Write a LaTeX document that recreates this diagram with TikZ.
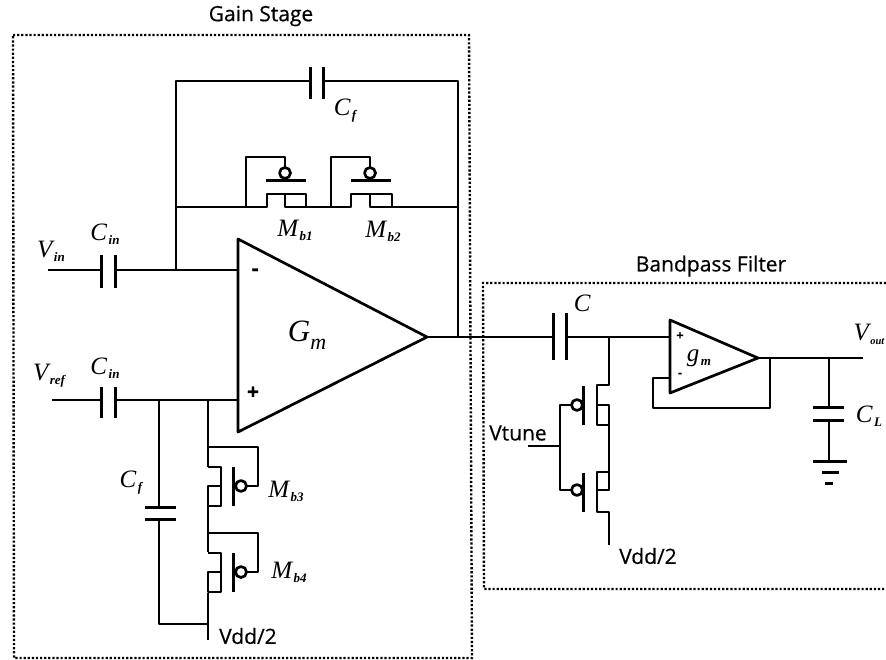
\documentclass[tikz,border=0pt]{standalone}
\usepackage{fontspec}
\setmainfont{Open Sans}[FakeBold=0.5]
\newfontfamily\serifit{Liberation Serif}
\newcommand{\sym}[3][13]{{\serifit\itshape\fontsize{25}{25}\selectfont #2\hspace{1.5pt}\raisebox{-4pt}{\fontsize{#1}{#1}\selectfont\bfseries #3}}}
\newcommand{\symbig}[2]{{\serifit\itshape\fontsize{31}{31}\selectfont #1\raisebox{-8pt}{\fontsize{22}{22}\selectfont #2}}}
\tikzset{
  wire/.style={line width=2.7pt,line join=round},
  plate/.style={line width=3pt},
  frame/.style={line width=2.4pt,dash pattern=on 2.2pt off 1.9pt},
  sign/.style={font=\fontsize{21}{21}\selectfont\bfseries,inner sep=0pt},
  smallsign/.style={font=\fontsize{13}{13}\selectfont\bfseries,inner sep=0pt},
  title/.style={font=\fontsize{21}{21}\selectfont,inner sep=0pt},
  sym/.style={inner sep=0pt}
}
\begin{document}
\begin{tikzpicture}[x=1pt,y=-1pt]
\useasboundingbox (0,0) rectangle (886,660);
% dotted frames
\draw[frame] (13,35) -- (469,35) -- (472,658) -- (14,658) -- cycle;
\draw[frame] (886,283) -- (483,283) -- (484,589) -- (886,589);
\node[title] (gaintitle) at (261,16) {Gain Stage};
\node[title] (filtertitle) at (711,266) {Bandpass Filter};
% pins
\coordinate (fbl) at (176,81);
\coordinate (fbr) at (458,81);
\coordinate (ml) at (176,207);
\coordinate (mr) at (458,207);
\coordinate (inn) at (238,270);
\coordinate (inp) at (238,400);
\coordinate (nref) at (159,400);
\coordinate (nbias) at (208,400);
\coordinate (nvdd) at (208,624);
\coordinate (nout) at (458,337);
% main amplifier
\draw[wire] (238,239) -- (427,337) -- (238,432) -- cycle;
\coordinate (gmout) at (427,337);
\node[sign] (mainminus) at (255,272) {-};
\node[sign] (mainplus) at (253,393) {+};
\node[sym] (gmlabel) at (307,335) {\symbig{G}{m}};
% feedback cap
\draw[plate] (310,67) -- (310,99);
\draw[plate] (323,67) -- (323,99);
\draw[wire] (inn -| fbl) -- (fbl) -- (310,81);
\draw[wire] (323,81) -- (fbr) -- (nout);
\node[sym] (cftop) at (345,111) {\sym{C}{f}};
% input caps
\foreach \y/\t/\b in {270/255/288,400/387/418}
{
\draw[plate] (101,\t) -- (101,\b);
\draw[plate] (115,\t) -- (115,\b);
}
\draw[wire] (48,270) -- (101,270);
\draw[wire] (115,270) -- (inn);
\draw[wire] (52,400) -- (101,400);
\draw[wire] (115,400) -- (inp);
\node[sym] (vin) at (51,251) {\sym{V}{in}};
\node[sym] (cin1) at (105,234) {\sym{C}{in}};
\node[sym] (vref) at (49,376) {\sym{V}{ref}};
\node[sym] (cin2) at (105,368) {\sym{C}{in}};
% top pseudo resistors
\draw[wire] (ml) -- (267,207) -- (267,194) -- (306,194) -- (306,207) -- (285,207) -- (285,194);
\draw[wire] (306,207) -- (351,207) -- (351,194) -- (392,194) -- (392,207) -- (370,207) -- (370,194);
\draw[wire] (392,207) -- (mr);
\foreach \x/\l in {285/246,370/331}
{
\draw[plate] (\x-19,181) -- (\x+21,181);
\draw[wire] (\x,173) circle[radius=5.5];
\draw[wire] (\x,167.5) -- (\x,157) -- (\l,157) -- (\l,207);
}
\node[sym] (mb1) at (295,230) {\sym{M}{b1}};
\node[sym] (mb2) at (383,231) {\sym{M}{b2}};
% bias branch
\draw[wire] (nref) -- (159,507);
\draw[plate] (145,507) -- (176,507);
\draw[plate] (145,519) -- (176,519);
\draw[wire] (159,519) -- (159,624) -- (nvdd);
\node[sym] (cfbot) at (131,483) {\sym{C}{f}};
\draw[wire] (nbias) -- (208,467);
\draw[wire] (208,506) -- (208,552);
\draw[wire] (208,593) -- (208,640);
\foreach \y in {486,572}
{
\draw[wire] (208,\y-19) -- (221,\y-19) -- (221,\y+20) -- (208,\y+20) -- (208,\y) -- (221,\y);
\draw[plate] (233,\y-19) -- (233,\y+20);
\draw[wire] (241,\y) circle[radius=5.5];
\draw[wire] (246.5,\y) -- (258,\y) -- (258,\y-39) -- (208,\y-39);
}
\node[sym] (mb3) at (286,491) {\sym{M}{b3}};
\node[sym] (mb4) at (289,572) {\sym{M}{b4}};
\node[title] (vddleft) at (248,636) {Vdd/2};
% filter
\draw[wire] (gmout) -- (553,337);
\draw[plate] (553,313) -- (553,360);
\draw[plate] (566,313) -- (566,360);
\node[sym] (clabel) at (583,305) {\sym{C}{}};
\coordinate (fp) at (670,337);
\coordinate (fn) at (670,378);
\coordinate (ftip) at (758,358);
\draw[wire] (566,337) -- (fp);
\draw[wire] (670,320) -- (ftip) -- (670,393) -- cycle;
\node[smallsign] (fplus) at (680,336) {+};
\node[smallsign] (fminus) at (680,375) {-};
\node[sym] (fgm) at (699,358) {\sym{g}{m}};
\draw[wire] (770,358) -- (770,408) -- (653,408) -- (653,378) -- (fn);
\coordinate (vo) at (863,358);
\draw[wire] (ftip) -- (vo);
\node[sym] (vout) at (869,334) {\sym[10.5]{V}{out}};
% load
\draw[wire] (829,358) -- (829,407);
\draw[plate] (813,407) -- (844,407);
\draw[plate] (813,420) -- (844,420);
\draw[wire] (829,420) -- (829,461);
\draw[plate] (813,461) -- (847,461);
\draw[plate] (822,472) -- (839,472);
\draw[plate] (825,483) -- (833,483);
\node[sym] (cl) at (869,416) {\sym{C}{L}};
% tuning devices
\draw[wire] (609,337) -- (609,385) -- (597,385) -- (597,425) -- (609,425) -- (609,405) -- (597,405);
\draw[wire] (609,425) -- (609,472) -- (597,472) -- (597,512) -- (609,512) -- (609,545);
\draw[wire] (609,472) -- (609,490) -- (597,490);
\foreach \y/\t in {405/386,490/473}
{
\draw[plate] (583,\t) -- (583,\t+39);
\draw[wire] (577,\y) circle[radius=5.5];
}
\coordinate (tune) at (560,446);
\draw[wire] (571.5,405) -- (560,405) -- (560,490) -- (571.5,490);
\draw[wire] (528,446) -- (tune);
\node[title] (vtune) at (518,433) {Vtune};
\node[title] (vddright) at (648,556) {Vdd/2};
\end{tikzpicture}
\end{document}
